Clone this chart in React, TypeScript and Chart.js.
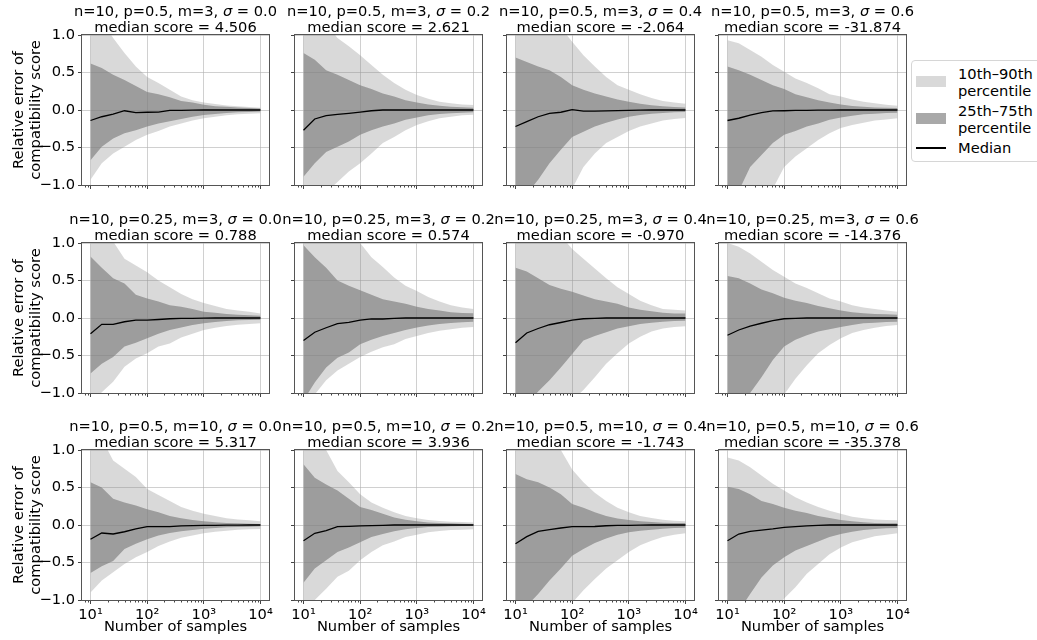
import React, { useEffect, useRef } from 'react';
import { Chart, registerables } from 'chart.js';

Chart.register(...registerables);

const FONT = '"DejaVu Sans", "Liberation Sans", sans-serif';
const FS = 14.67;

// ---------------- data ----------------
const sampleSizes = [10, 15.8, 25.1, 39.8, 63.1, 100, 158, 251, 398, 631, 1000, 1585, 2512, 3981, 6310, 10000];
const xTickValues = [10, 100, 1000, 10000];
const xTickLabels = ['10¹', '10²', '10³', '10⁴'];
const yTickValues = [-1, -0.5, 0, 0.5, 1];
const yTickLabels = ['−1.0', '−0.5', '0.0', '0.5', '1.0'];
const X_MIN = 7.08;
const X_MAX = 14125;

const rowParams = ['n=10, p=0.5, m=3, ', 'n=10, p=0.25, m=3, ', 'n=10, p=0.5, m=10, '];
const sigmas = ['0.0', '0.2', '0.4', '0.6'];
const medianScores = ['4.506', '2.621', '-2.064', '-31.874', '0.788', '0.574', '-0.970', '-14.376', '5.317', '3.936', '-1.743', '-35.378'];

const legendLabels = [['10th–90th', 'percentile'], ['25th–75th', 'percentile'], ['Median']];

// 90th percentile, one list per panel (row by row)
const p90 = [
  [1.5, 1.2, 0.96, 0.76, 0.58, 0.44, 0.36, 0.27, 0.18, 0.13, 0.10, 0.08, 0.06, 0.05, 0.04, 0.03],
  [1.6, 1.4, 1.15, 0.96, 0.85, 0.73, 0.6, 0.47, 0.36, 0.27, 0.2, 0.15, 0.11, 0.09, 0.075, 0.067],
  [2.0, 1.8, 1.5, 1.3, 1.1, 0.91, 0.73, 0.58, 0.44, 0.33, 0.27, 0.21, 0.16, 0.12, 0.10, 0.085],
  [0.93, 0.89, 0.8, 0.71, 0.6, 0.51, 0.42, 0.36, 0.29, 0.21, 0.18, 0.14, 0.11, 0.09, 0.07, 0.058],
  [1.5, 1.2, 1.02, 0.79, 0.7, 0.61, 0.5, 0.41, 0.32, 0.25, 0.2, 0.16, 0.12, 0.1, 0.085, 0.06],
  [2.0, 1.8, 1.5, 1.3, 1.15, 1.0, 0.81, 0.68, 0.54, 0.43, 0.36, 0.28, 0.22, 0.17, 0.14, 0.12],
  [1.8, 1.6, 1.4, 1.25, 1.1, 0.92, 0.79, 0.66, 0.53, 0.41, 0.32, 0.23, 0.17, 0.12, 0.11, 0.1],
  [1.0, 0.95, 0.86, 0.75, 0.64, 0.55, 0.46, 0.4, 0.33, 0.26, 0.22, 0.17, 0.14, 0.12, 0.1, 0.085],
  [1.4, 1.15, 0.86, 0.75, 0.64, 0.48, 0.4, 0.32, 0.24, 0.19, 0.15, 0.12, 0.09, 0.075, 0.062, 0.05],
  [1.4, 1.2, 1.0, 0.72, 0.57, 0.41, 0.3, 0.23, 0.17, 0.12, 0.09, 0.067, 0.053, 0.044, 0.04, 0.035],
  [1.6, 1.45, 1.3, 1.12, 1.0, 0.74, 0.57, 0.43, 0.32, 0.23, 0.17, 0.12, 0.093, 0.07, 0.058, 0.049],
  [0.9, 0.86, 0.77, 0.66, 0.55, 0.46, 0.37, 0.3, 0.24, 0.19, 0.15, 0.11, 0.089, 0.075, 0.067, 0.062],
];

const p75 = [
  [0.62, 0.56, 0.47, 0.40, 0.32, 0.24, 0.21, 0.17, 0.12, 0.10, 0.07, 0.05, 0.045, 0.035, 0.027, 0.02],
  [0.76, 0.67, 0.53, 0.47, 0.40, 0.33, 0.28, 0.22, 0.18, 0.13, 0.10, 0.075, 0.058, 0.044, 0.036, 0.03],
  [0.70, 0.64, 0.58, 0.53, 0.44, 0.33, 0.27, 0.22, 0.18, 0.14, 0.11, 0.085, 0.062, 0.05, 0.04, 0.035],
  [0.58, 0.53, 0.47, 0.4, 0.33, 0.28, 0.21, 0.17, 0.13, 0.1, 0.075, 0.053, 0.044, 0.035, 0.031, 0.027],
  [0.82, 0.67, 0.53, 0.46, 0.31, 0.26, 0.22, 0.17, 0.15, 0.12, 0.085, 0.07, 0.054, 0.045, 0.036, 0.03],
  [0.97, 0.81, 0.67, 0.5, 0.43, 0.37, 0.31, 0.25, 0.22, 0.19, 0.15, 0.12, 0.1, 0.076, 0.067, 0.062],
  [0.67, 0.62, 0.53, 0.44, 0.39, 0.35, 0.3, 0.25, 0.22, 0.19, 0.14, 0.11, 0.09, 0.07, 0.06, 0.06],
  [0.56, 0.53, 0.46, 0.38, 0.33, 0.27, 0.23, 0.2, 0.16, 0.13, 0.1, 0.076, 0.062, 0.054, 0.05, 0.045],
  [0.57, 0.5, 0.35, 0.3, 0.26, 0.21, 0.17, 0.12, 0.09, 0.067, 0.05, 0.036, 0.027, 0.022, 0.018, 0.013],
  [0.81, 0.63, 0.54, 0.46, 0.35, 0.24, 0.2, 0.15, 0.1, 0.071, 0.049, 0.035, 0.027, 0.022, 0.018, 0.013],
  [0.68, 0.61, 0.57, 0.5, 0.41, 0.28, 0.23, 0.17, 0.12, 0.088, 0.066, 0.049, 0.04, 0.031, 0.027, 0.027],
  [0.51, 0.48, 0.41, 0.32, 0.28, 0.23, 0.19, 0.16, 0.12, 0.093, 0.067, 0.049, 0.036, 0.027, 0.022, 0.022],
];

const median = [
  [-0.14, -0.09, -0.055, -0.01, -0.035, -0.03, -0.027, -0.005, -0.004, -0.002, 0, 0, 0, 0, 0, 0],
  [-0.27, -0.12, -0.075, -0.058, -0.044, -0.027, -0.01, 0, 0, 0, 0, 0, 0, 0, 0, 0],
  [-0.22, -0.155, -0.09, -0.044, -0.03, 0.005, -0.015, -0.015, -0.013, -0.008, -0.005, -0.003, 0, 0, 0, 0],
  [-0.14, -0.11, -0.067, -0.036, -0.013, -0.01, -0.005, -0.004, -0.003, -0.002, 0, 0, 0, 0, 0, 0],
  [-0.21, -0.085, -0.085, -0.05, -0.027, -0.027, -0.02, -0.01, -0.005, -0.005, -0.003, 0, 0, 0, 0, 0],
  [-0.3, -0.19, -0.13, -0.076, -0.058, -0.027, -0.013, -0.013, -0.005, 0, 0, 0, 0, 0, 0, 0],
  [-0.33, -0.2, -0.14, -0.09, -0.06, -0.027, -0.01, -0.005, 0, 0, 0, 0, 0, 0, 0, 0],
  [-0.23, -0.16, -0.107, -0.07, -0.036, -0.01, -0.005, 0, 0, 0, 0, 0, 0, 0, 0, 0],
  [-0.19, -0.107, -0.12, -0.09, -0.053, -0.022, -0.022, -0.022, -0.013, -0.008, -0.005, -0.005, -0.003, -0.002, 0, 0],
  [-0.21, -0.11, -0.075, -0.022, -0.018, -0.013, -0.008, -0.004, 0, 0, 0, 0, 0, 0, 0, 0],
  [-0.25, -0.155, -0.084, -0.062, -0.04, -0.022, -0.022, -0.02, -0.01, -0.005, -0.004, -0.003, 0, 0, 0, 0],
  [-0.21, -0.12, -0.084, -0.067, -0.053, -0.031, -0.022, -0.013, -0.005, 0, 0, 0, 0, 0, 0, 0],
];

const p25 = [
  [-0.67, -0.49, -0.38, -0.31, -0.27, -0.22, -0.18, -0.15, -0.12, -0.09, -0.067, -0.053, -0.04, -0.03, -0.027, -0.02],
  [-0.89, -0.71, -0.56, -0.49, -0.42, -0.33, -0.27, -0.22, -0.18, -0.13, -0.10, -0.07, -0.053, -0.044, -0.036, -0.03],
  [-1.3, -1.12, -0.93, -0.71, -0.53, -0.36, -0.29, -0.22, -0.17, -0.125, -0.09, -0.067, -0.05, -0.04, -0.03, -0.027],
  [-1.3, -1.08, -0.76, -0.6, -0.44, -0.33, -0.28, -0.22, -0.18, -0.13, -0.1, -0.075, -0.058, -0.05, -0.04, -0.036],
  [-0.74, -0.61, -0.52, -0.38, -0.33, -0.27, -0.21, -0.16, -0.125, -0.094, -0.07, -0.054, -0.04, -0.03, -0.027, -0.022],
  [-1.1, -0.86, -0.66, -0.53, -0.46, -0.35, -0.29, -0.24, -0.2, -0.16, -0.125, -0.1, -0.08, -0.067, -0.058, -0.05],
  [-1.3, -1.15, -0.98, -0.83, -0.66, -0.48, -0.3, -0.24, -0.19, -0.14, -0.11, -0.08, -0.062, -0.05, -0.04, -0.036],
  [-1.3, -1.15, -1.0, -0.79, -0.56, -0.38, -0.29, -0.23, -0.18, -0.15, -0.12, -0.094, -0.07, -0.062, -0.054, -0.05],
  [-0.64, -0.55, -0.48, -0.32, -0.25, -0.19, -0.14, -0.107, -0.084, -0.067, -0.049, -0.04, -0.031, -0.027, -0.022, -0.018],
  [-0.77, -0.58, -0.47, -0.36, -0.3, -0.23, -0.16, -0.12, -0.084, -0.058, -0.04, -0.027, -0.022, -0.018, -0.013, -0.009],
  [-1.3, -1.08, -0.92, -0.74, -0.58, -0.41, -0.32, -0.24, -0.18, -0.13, -0.097, -0.075, -0.062, -0.049, -0.04, -0.035],
  [-1.4, -1.15, -0.92, -0.7, -0.54, -0.43, -0.34, -0.28, -0.22, -0.16, -0.12, -0.089, -0.067, -0.053, -0.044, -0.04],
];

const p10 = [
  [-0.93, -0.71, -0.58, -0.49, -0.40, -0.33, -0.28, -0.22, -0.18, -0.14, -0.11, -0.09, -0.07, -0.058, -0.05, -0.044],
  [-1.4, -1.25, -1.1, -0.96, -0.82, -0.71, -0.58, -0.44, -0.36, -0.27, -0.2, -0.15, -0.11, -0.09, -0.07, -0.062],
  [-2.0, -1.8, -1.6, -1.4, -1.2, -1.05, -0.76, -0.58, -0.44, -0.36, -0.28, -0.22, -0.18, -0.14, -0.12, -0.107],
  [-2.2, -1.9, -1.6, -1.3, -1.05, -0.76, -0.62, -0.51, -0.4, -0.31, -0.24, -0.2, -0.17, -0.14, -0.125, -0.11],
  [-1.2, -0.99, -0.85, -0.65, -0.54, -0.47, -0.38, -0.34, -0.26, -0.21, -0.16, -0.13, -0.107, -0.09, -0.08, -0.07],
  [-1.3, -1.02, -0.83, -0.7, -0.61, -0.52, -0.45, -0.39, -0.35, -0.28, -0.24, -0.2, -0.17, -0.15, -0.13, -0.12],
  [-2.2, -2.0, -1.8, -1.5, -1.3, -1.1, -0.96, -0.79, -0.61, -0.47, -0.34, -0.25, -0.18, -0.14, -0.12, -0.11],
  [-2.5, -2.1, -1.8, -1.5, -1.25, -1.02, -0.81, -0.63, -0.47, -0.36, -0.27, -0.2, -0.16, -0.13, -0.107, -0.094],
  [-0.9, -0.74, -0.63, -0.52, -0.43, -0.36, -0.28, -0.22, -0.17, -0.14, -0.11, -0.09, -0.076, -0.062, -0.058, -0.053],
  [-1.09, -1.0, -0.85, -0.69, -0.61, -0.47, -0.36, -0.27, -0.22, -0.16, -0.13, -0.097, -0.08, -0.066, -0.062, -0.058],
  [-2.5, -2.2, -1.9, -1.6, -1.3, -1.04, -0.87, -0.72, -0.58, -0.47, -0.36, -0.27, -0.21, -0.16, -0.13, -0.11],
  [-2.4, -2.0, -1.7, -1.45, -1.2, -0.98, -0.83, -0.65, -0.52, -0.39, -0.3, -0.23, -0.19, -0.15, -0.13, -0.11],
];

// ---------------- style / layout ----------------
const LIGHT = 'rgba(128,128,128,0.3)';
const DARK = 'rgba(128,128,128,0.68)';
const GRID = 'rgba(176,176,176,0.6)';
const COL_LEFT = [82, 295, 507, 719];
const ROW_TOP = [35, 243, 450];
const PW = 187;
const PH = 150;
const PADL = 82;
const PADT = 35;
const PADR = 34;
const PADB = 40;
const CW = PADL + PW + PADR;
const CH = PADT + PH + PADB;

const titlePlugin = {
  id: 'panelTitle',
  afterDraw(chart: any, _args: any, opts: any) {
    const { ctx, chartArea } = chart;
    const cx = (chartArea.left + chartArea.right) / 2;
    const normal = `${FS}px ${FONT}`;
    const italic = `italic ${FS}px ${FONT}`;
    const parts: [string, string][] = [
      [opts.prefix, normal],
      ['σ', italic],
      [' = ' + opts.sigma, normal],
    ];
    ctx.save();
    ctx.fillStyle = '#000';
    ctx.textBaseline = 'alphabetic';
    ctx.textAlign = 'left';
    let total = 0;
    const widths = parts.map(([t, f]) => {
      ctx.font = f;
      const w = ctx.measureText(t).width;
      total += w;
      return w;
    });
    let x = cx - total / 2;
    parts.forEach(([t, f], i) => {
      ctx.font = f;
      ctx.fillText(t, x, chartArea.top - 19.5);
      x += widths[i];
    });
    ctx.font = normal;
    ctx.textAlign = 'center';
    ctx.fillText(opts.line2, cx, chartArea.top - 3.5);
    ctx.restore();
  },
};

const framePlugin = {
  id: 'frame',
  afterDraw(chart: any) {
    const { ctx, chartArea: a, scales } = chart;
    const xs = scales.x;
    ctx.save();
    ctx.strokeStyle = '#444';
    ctx.lineWidth = 1;
    ctx.beginPath();
    for (let e = 0; e <= 4; e++) {
      for (let m = 2; m <= 9; m++) {
        const v = m * Math.pow(10, e);
        if (v < xs.min || v > xs.max) continue;
        const px = Math.round(xs.getPixelForValue(v)) + 0.5;
        ctx.moveTo(px, a.bottom);
        ctx.lineTo(px, a.bottom + 2.5);
      }
    }
    ctx.stroke();
    ctx.strokeStyle = '#555';
    ctx.strokeRect(
      Math.round(a.left) - 0.5,
      Math.round(a.top) - 0.5,
      Math.round(a.right - a.left) + 1,
      Math.round(a.bottom - a.top) + 1
    );
    ctx.restore();
  },
};

function pts(values: number[]) {
  return sampleSizes.map((x, i) => ({ x, y: values[i] }));
}

function Panel({ idx }: { idx: number }) {
  const ref = useRef<HTMLCanvasElement>(null);
  const r = Math.floor(idx / 4);
  const c = idx % 4;
  useEffect(() => {
    const font = { family: FONT, size: FS };
    const chart = new Chart(ref.current as HTMLCanvasElement, {
      type: 'line',
      data: {
        datasets: [
          { label: 'Median', data: pts(median[idx]), borderColor: '#000', borderWidth: 1.3, pointRadius: 0, fill: false },
          { label: '25th–75th percentile', data: pts(p75[idx]), borderColor: 'rgba(0,0,0,0)', borderWidth: 0, backgroundColor: DARK, fill: '+1', pointRadius: 0 },
          { label: 'p25', data: pts(p25[idx]), borderColor: 'rgba(0,0,0,0)', borderWidth: 0, pointRadius: 0, fill: false },
          { label: '10th–90th percentile', data: pts(p90[idx]), borderColor: 'rgba(0,0,0,0)', borderWidth: 0, backgroundColor: LIGHT, fill: '+1', pointRadius: 0 },
          { label: 'p10', data: pts(p10[idx]), borderColor: 'rgba(0,0,0,0)', borderWidth: 0, pointRadius: 0, fill: false },
        ] as any,
      },
      options: {
        animation: false,
        responsive: false,
        maintainAspectRatio: false,
        devicePixelRatio: 1,
        events: [],
        layout: { padding: { left: 0, top: PADT, right: PADR, bottom: 0 } },
        plugins: {
          legend: { display: false },
          title: { display: false },
          tooltip: { enabled: false },
          panelTitle: { prefix: rowParams[r], sigma: sigmas[c], line2: 'median score = ' + medianScores[idx] },
        } as any,
        scales: {
          x: {
            type: 'logarithmic',
            min: X_MIN,
            max: X_MAX,
            z: 1,
            afterBuildTicks: (s: any) => {
              s.ticks = xTickValues.map((v) => ({ value: v }));
            },
            afterFit: (s: any) => {
              s.height = PADB;
            },
            ticks: {
              display: r === 2,
              autoSkip: false,
              maxRotation: 0,
              padding: 2,
              color: '#000',
              font,
              callback: (v: any) => xTickLabels[xTickValues.indexOf(Number(v))] ?? '',
            },
            grid: { color: GRID, lineWidth: 1, drawTicks: true, tickLength: 4, tickColor: '#444', tickWidth: 1 },
            border: { display: false },
            title: { display: r === 2, text: 'Number of samples', color: '#000', font, padding: { top: 0, bottom: 4 } },
          },
          y: {
            type: 'linear',
            min: -1,
            max: 1,
            z: 1,
            afterBuildTicks: (s: any) => {
              s.ticks = yTickValues.map((v) => ({ value: v }));
            },
            afterFit: (s: any) => {
              s.width = PADL;
            },
            ticks: {
              display: c === 0,
              padding: 3,
              color: '#000',
              font,
              callback: (v: any) => yTickLabels[yTickValues.indexOf(Number(v))] ?? '',
            },
            grid: { color: GRID, lineWidth: 1, drawTicks: true, tickLength: 4, tickColor: '#444', tickWidth: 1 },
            border: { display: false },
            title: { display: c === 0, text: ['Relative error of', 'compatibility score'], color: '#000', font, padding: { top: 10, bottom: 0 } },
          },
        } as any,
      },
      plugins: [titlePlugin, framePlugin],
    });
    return () => chart.destroy();
  }, [idx, r, c]);
  return (
    <canvas
      ref={ref}
      width={CW}
      height={CH}
      style={{ position: 'absolute', left: COL_LEFT[c] - PADL, top: ROW_TOP[r] - PADT, width: CW, height: CH }}
    />
  );
}

function Legend() {
  const swatchColors = [LIGHT, DARK];
  const rowTops = [4, 41];
  return (
    <div
      style={{
        position: 'absolute',
        left: 911,
        top: 60,
        width: 140,
        height: 102,
        boxSizing: 'border-box',
        border: '1px solid #d6d6d6',
        borderRadius: 4,
        background: '#fff',
        fontFamily: FONT,
        fontSize: FS,
        color: '#000',
      }}
    >
      {swatchColors.map((col, i) => (
        <React.Fragment key={i}>
          <div style={{ position: 'absolute', left: 4, top: i === 0 ? 15 : 52, width: 30, height: 11, background: col }} />
          <div style={{ position: 'absolute', left: 46, top: rowTops[i], lineHeight: '17px', whiteSpace: 'pre' }}>
            {legendLabels[i].join('\n')}
          </div>
        </React.Fragment>
      ))}
      <div style={{ position: 'absolute', left: 4, top: 86, width: 30, height: 1.5, background: '#000' }} />
      <div style={{ position: 'absolute', left: 46, top: 78, lineHeight: '17px', whiteSpace: 'pre' }}>{legendLabels[2][0]}</div>
    </div>
  );
}

export default function App() {
  return (
    <div
      style={{
        position: 'absolute',
        left: 0,
        top: 0,
        width: 1037,
        height: 640,
        overflow: 'hidden',
        background: '#fff',
      }}
    >
      {Array.from({ length: 12 }, (_, i) => (
        <Panel key={i} idx={i} />
      ))}
      <Legend />
    </div>
  );
}
